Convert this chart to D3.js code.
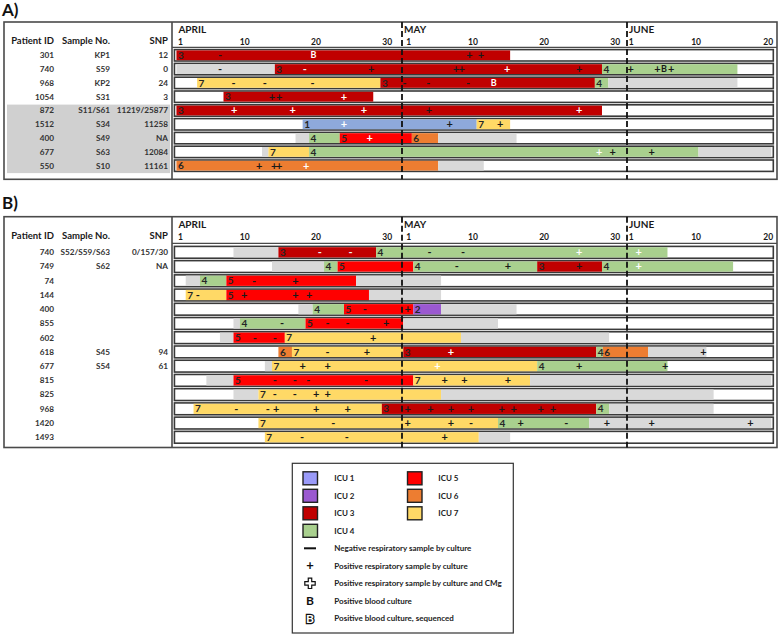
<!DOCTYPE html>
<html><head><meta charset="utf-8">
<script src="https://cdn.jsdelivr.net/npm/d3@7/dist/d3.min.js"></script>
<style>
body{margin:0;background:#fff;}
svg{font-family:Lato,"Open Sans",sans-serif;font-weight:bold;}
</style></head>
<body><svg id="chart" width="778" height="635"></svg>
<script>
// ---------- DATA ----------
// day coordinate: April d = d, May d = 30 + d, June d = 61 + d
const monthNames = ["APRIL", "MAY", "JUNE"];
const monthStarts = [0.5, 30.5, 61.5];
const tickDays = [1, 10, 20, 30, 31, 40, 50, 60, 62, 71, 81];
const tickLabels = ["1", "10", "20", "30", "1", "10", "20", "30", "1", "10", "20"];

const icuCodes = [1, 2, 3, 4, 5, 6, 7, 0];
const icuColors = ["#8EA9DB", "#9B59D0", "#C00000", "#A9D08E", "#FF0000", "#ED7D31", "#FFD966", "#D9D9D9"];
const legendIcuColors = ["#9A9AF8", "#9B59D0", "#C00000", "#A9D08E", "#FF0000", "#ED7D31", "#FFD966"];

// Panel A
const idsA = ["301", "740", "968", "1054", "872", "1512", "400", "677", "550"];
const samplesA = ["KP1", "S59", "KP2", "S31", "S11/S61", "S34", "S49", "S63", "S10"];
const snpA = ["12", "0", "24", "3", "11219/25877", "11258", "NA", "12084", "11161"];
const shadedRowsA = [4, 5, 6, 7, 8];
// [row, icu, startDay, endDay]
const segmentsA = [
  [0,3,0.5,45.3],
  [1,0,0.5,14.3],[1,3,14.3,58.2],[1,4,58.2,76.8],
  [2,7,3.4,29.1],[2,3,29.1,57.2],[2,4,57.2,59.1],[2,0,59.1,76.8],
  [3,3,7.1,28.1],
  [4,3,0.5,58.2],
  [5,1,18.2,40.6],[5,7,40.6,45.3],
  [6,0,17.2,19.1],[6,4,19.1,23.4],[6,5,23.4,31.5],[6,6,31.5,35.2],[6,0,35.2,46.2],
  [7,0,12.5,13.4],[7,7,13.4,19.1],[7,4,19.1,71.4],[7,0,71.4,81.5],
  [8,6,0.5,35.2],[8,0,35.2,41.6]
];
// [row, day, type]  "-" negative, "w" negative (light), "+" positive, "c" positive culture+CMg, "B" blood, "S" blood sequenced
const marksA = [
  [0,6.6,"-"],[0,19.7,"S"],[0,39.6,"+"],[0,41.2,"+"],
  [1,6.6,"-"],[1,18.5,"w"],[1,27.8,"+"],[1,37.7,"+"],[1,38.5,"+"],[1,44.9,"c"],[1,55.0,"+"],[1,62.0,"+"],[1,65.7,"+"],[1,66.6,"B"],[1,67.6,"+"],
  [2,8.5,"-"],[2,12.9,"-"],[2,19.6,"-"],[2,30.7,"-"],[2,33.8,"-"],[2,39.4,"-"],[2,43.0,"S"],
  [3,13.9,"+"],[3,14.9,"+"],[3,24.0,"c"],
  [4,8.6,"c"],[4,16.8,"c"],[4,26.8,"c"],[4,33.9,"+"],[4,55.0,"c"],
  [5,24.0,"c"],[5,36.8,"+"],[5,43.9,"+"],
  [6,27.6,"c"],
  [7,57.8,"c"],[7,59.7,"+"],[7,64.9,"+"],
  [8,12.1,"+"],[8,14.2,"+"],[8,14.9,"+"],[8,18.7,"c"]
];

// Panel B
const idsB = ["740", "749", "74", "144", "400", "855", "602", "618", "677", "815", "825", "968", "1420", "1493"];
const samplesB = ["S52/S59/S63", "S62", "", "", "", "", "", "S45", "S54", "", "", "", "", ""];
const snpB = ["0/157/30", "NA", "", "", "", "", "", "94", "61", "", "", "", "", ""];
const segmentsB = [
  [0,0,8.5,14.8],[0,3,14.8,28.5],[0,4,28.5,67.1],
  [1,0,13.9,21.2],[1,4,21.2,23.1],[1,5,23.1,31.7],[1,4,31.7,49.1],[1,3,49.1,58.2],[1,4,58.2,76.2],
  [2,0,1.8,3.8],[2,4,3.8,7.5],[2,5,7.5,25.7],[2,0,25.7,35.6],
  [3,7,1.8,7.5],[3,5,7.5,27.5],[3,0,27.5,35.6],
  [4,0,17.6,19.6],[4,4,19.6,24.0],[4,5,24.0,31.7],[4,2,31.7,35.6],[4,0,35.6,46.2],
  [5,0,8.5,9.4],[5,4,9.4,18.6],[5,5,18.6,30.6],[5,0,30.6,43.6],
  [6,0,6.6,8.5],[6,5,8.5,15.7],[6,7,15.7,38.4],[6,0,38.4,59.2],
  [7,6,14.8,16.7],[7,7,16.7,30.6],[7,3,30.6,57.4],[7,4,57.4,58.3],[7,6,58.3,64.4],[7,0,64.4,72.5],
  [8,0,12.9,13.9],[8,7,13.9,49.1],[8,4,49.1,67.1],
  [9,0,4.7,8.5],[9,5,8.5,31.7],[9,7,31.7,48.1],[9,0,48.1,81.5],
  [10,0,8.5,12.0],[10,7,12.0,35.6],[10,0,35.6,73.5],
  [11,7,2.9,29.3],[11,3,29.3,57.4],[11,4,57.4,59.2],[11,0,59.2,73.5],
  [12,7,12.0,43.6],[12,4,43.6,56.4],[12,0,56.4,81.5],
  [13,7,12.9,40.9],[13,0,40.9,45.3]
];
const marksB = [
  [0,20.6,"w"],[0,24.9,"w"],[0,34.0,"-"],[0,38.7,"-"],[0,55.0,"c"],[0,63.1,"c"],
  [1,37.8,"-"],[1,45.0,"+"],[1,55.0,"+"],[1,63.1,"c"],
  [2,11.4,"-"],[2,17.2,"+"],
  [3,3.5,"-"],[3,10.0,"+"],[3,17.2,"+"],[3,19.1,"+"],
  [4,26.9,"-"],[4,30.95,"+"],
  [5,15.3,"-"],[5,21.7,"-"],[5,24.5,"-"],[5,29.9,"+"],
  [6,11.5,"-"],[6,14.3,"-"],[6,28.1,"+"],
  [7,21.7,"-"],[7,27.2,"+"],[7,37.0,"c"],[7,72.1,"+"],
  [8,18.2,"+"],[8,21.7,"+"],[8,35.1,"c"],[8,55.0,"+"],[8,66.8,"+"],
  [9,14.3,"-"],[9,17.1,"-"],[9,19.0,"-"],[9,27.1,"-"],[9,36.1,"+"],[9,38.9,"+"],[9,45.0,"+"],
  [10,14.3,"-"],[10,17.1,"-"],[10,20.1,"+"],[10,21.7,"+"],
  [11,8.9,"-"],[11,13.3,"-"],[11,14.5,"+"],[11,20.1,"+"],[11,24.5,"+"],[11,30.95,"+"],[11,34.1,"+"],[11,37.0,"+"],[11,39.8,"+"],[11,44.1,"+"],[11,45.8,"+"],[11,49.6,"+"],[11,51.3,"+"],
  [12,22.5,"-"],[12,30.95,"+"],[12,37.0,"+"],[12,39.8,"-"],[12,46.8,"+"],[12,53.2,"-"],[12,58.9,"+"],[12,64.9,"+"],[12,78.6,"+"],
  [13,18.1,"-"],[13,24.4,"-"],[13,36.1,"+"]
];

// Legend
const legendIcuLabels = ["ICU 1", "ICU 2", "ICU 3", "ICU 4", "ICU 5", "ICU 6", "ICU 7"];
const legendSymbolTypes = ["-", "+", "c", "B", "S"];
const legendSymbolLabels = [
  "Negative respiratory sample by culture",
  "Positive respiratory sample by culture",
  "Positive respiratory sample by culture and CMg",
  "Positive blood culture",
  "Positive blood culture, sequenced"
];

// ---------- CHART ----------
const svg = d3.select("#chart");
const color = d3.scaleOrdinal().domain(icuCodes).range(icuColors);
const x = d3.scaleLinear()
  .domain([1, 30, 30.5, 31, 60, 61.5, 62, 81])
  .range([180, 386.8, 402, 408.3, 614.8, 627, 630.7, 767.7]);

const markFill = {"-":"#1a1a1a","w":"#f2f2f2","+":"#1a1a1a","c":"#ffffff","B":"#1a1a1a","S":"#ffffff"};
const markText = {"-":"-","w":"-","+":"+","c":"+","B":"B","S":"B"};

function drawPanel(o) {
  const g = svg.append("g");
  const y = d3.scaleBand().domain(d3.range(o.ids.length)).range(o.rowRange);
  const cy = i => y(i) + y.bandwidth() / 2;
  const xL = x(0.5), xR = x(81.5);

  g.append("text").attr("x", 2).attr("y", o.titleY).attr("font-size", 17).attr("fill", "#111").text(o.title);

  if (o.shaded.length) {
    const s0 = d3.min(o.shaded), s1 = d3.max(o.shaded);
    g.append("rect").attr("x", 7).attr("width", 163)
      .attr("y", y(s0) + 1).attr("height", y(s1) + y.bandwidth() - y(s0) - 0.5)
      .attr("fill", "#D0D0D0");
  }

  g.append("rect").attr("x", 4).attr("y", o.boxTop).attr("width", 773).attr("height", o.boxBottom - o.boxTop)
    .attr("fill", "none").attr("stroke", "#4a4a4a").attr("stroke-width", 1.6);
  g.append("line").attr("x1", 172).attr("x2", 172).attr("y1", o.boxTop).attr("y2", o.boxBottom)
    .attr("stroke", "#4a4a4a").attr("stroke-width", 1.6);
  g.append("line").attr("x1", 172).attr("x2", 777).attr("y1", o.headerLine).attr("y2", o.headerLine)
    .attr("stroke", "#4a4a4a").attr("stroke-width", 1.2);

  const hy = o.boxTop + 22;
  [["Patient ID", 54], ["Sample No.", 110], ["SNP", 168]].forEach(([t, xx]) =>
    g.append("text").attr("x", xx).attr("y", hy).attr("text-anchor", "end").attr("font-size", 9.5).attr("fill", "#1a1a1a").text(t));

  g.selectAll(".month").data(monthNames).join("text")
    .attr("x", (d, i) => x(monthStarts[i]) + 2).attr("y", o.boxTop + 11)
    .attr("font-size", 10).attr("fill", "#1a1a1a").text(d => d);

  const axis = d3.axisTop(x).tickValues(tickDays).tickFormat((d, i) => tickLabels[i]).tickSize(0).tickPadding(0);
  const ag = g.append("g").attr("transform", `translate(0,${o.boxTop + 23})`).call(axis);
  ag.select(".domain").remove();
  ag.selectAll("text").attr("font-size", 8.5).attr("fill", "#1a1a1a").attr("font-family", "Lato, sans-serif").attr("font-weight", "bold");

  const lab = (arr, xx) => g.append("g").selectAll("text").data(arr).join("text")
    .attr("x", xx).attr("y", (d, i) => cy(i)).attr("dy", "0.35em").attr("text-anchor", "end")
    .attr("font-size", 8.2).attr("fill", "#333").text(d => d);
  lab(o.ids, 54); lab(o.samples, 110); lab(o.snp, 168);

  const rh = y.bandwidth() - 2.4;
  g.append("g").selectAll("rect").data(o.ids).join("rect")
    .attr("x", xL - 2).attr("width", xR - xL + 4)
    .attr("y", (d, i) => cy(i) - rh / 2).attr("height", rh)
    .attr("fill", "#fff").attr("stroke", "#3a3a3a").attr("stroke-width", 1.6);

  const sh = rh - 1.6;
  g.append("g").selectAll("rect").data(o.segments).join("rect")
    .attr("x", d => x(d[2])).attr("width", d => x(d[3]) - x(d[2]))
    .attr("y", d => cy(d[0]) - sh / 2).attr("height", sh)
    .attr("fill", d => color(d[1]));
  g.append("g").selectAll("text").data(o.segments.filter(d => d[1] !== 0)).join("text")
    .attr("x", d => x(d[2]) + 1.5).attr("y", d => cy(d[0])).attr("dy", "0.36em")
    .attr("font-size", 10).attr("fill", "#262626").text(d => d[1]);

  g.append("g").selectAll("line").data(monthStarts.slice(1)).join("line")
    .attr("x1", d => x(d)).attr("x2", d => x(d)).attr("y1", o.boxTop).attr("y2", o.boxBottom)
    .attr("stroke", "#111").attr("stroke-width", 1.8).attr("stroke-dasharray", "6,3");

  g.append("g").selectAll("text").data(o.marks).join("text")
    .attr("x", d => x(d[1])).attr("y", d => cy(d[0])).attr("dy", "0.35em")
    .attr("text-anchor", "middle")
    .attr("font-size", d => (d[2] === "B" || d[2] === "S") ? 9 : 11)
    .attr("fill", d => markFill[d[2]]).text(d => markText[d[2]]);
}

drawPanel({title: "A)", titleY: 16, boxTop: 22, boxBottom: 179.3, headerLine: 47.3, rowRange: [48.4, 172.6],
  ids: idsA, samples: samplesA, snp: snpA, shaded: shadedRowsA, segments: segmentsA, marks: marksA});
drawPanel({title: "B)", titleY: 209, boxTop: 216.7, boxBottom: 447.5, headerLine: 243.3, rowRange: [245.2, 444.4],
  ids: idsB, samples: samplesB, snp: snpB, shaded: [], segments: segmentsB, marks: marksB});

// ---------- LEGEND ----------
const lg = svg.append("g");
lg.append("rect").attr("x", 292.3).attr("y", 463.3).attr("width", 221).attr("height", 169.7)
  .attr("fill", "#fff").attr("stroke", "#333").attr("stroke-width", 1.2);
const ly = d3.scaleLinear().domain([0, 8]).range([478.3, 618.3]);
const icuRow = i => i < 4 ? i : i - 4;
const icuCol = i => i < 4 ? 0 : 1;
const colSw = [303, 407.5], colTx = [334.3, 438.3];
lg.selectAll(".sw").data(legendIcuLabels).join("rect")
  .attr("x", (d, i) => colSw[icuCol(i)]).attr("y", (d, i) => ly(icuRow(i)) - 6.5)
  .attr("width", 14.5).attr("height", 13)
  .attr("fill", (d, i) => legendIcuColors[i]).attr("stroke", "#222").attr("stroke-width", 1.4);
lg.selectAll(".lt").data(legendIcuLabels).join("text")
  .attr("x", (d, i) => colTx[icuCol(i)]).attr("y", (d, i) => ly(icuRow(i))).attr("dy", "0.35em")
  .attr("font-size", 8).attr("fill", "#222").text(d => d);
lg.selectAll(".st").data(legendSymbolLabels).join("text")
  .attr("x", colTx[0]).attr("y", (d, i) => ly(i + 4)).attr("dy", "0.35em")
  .attr("font-size", 8).attr("fill", "#222").text(d => d);
legendSymbolTypes.forEach((t, i) => {
  const yy = ly(i + 4), xx = 310;
  if (t === "-") {
    lg.append("rect").attr("x", xx - 6).attr("y", yy - 1).attr("width", 12).attr("height", 2).attr("fill", "#111");
  } else if (t === "c") {
    lg.append("path").attr("d", d3.symbol(d3.symbolCross, 60)())
      .attr("transform", `translate(${xx},${yy})`)
      .attr("fill", "#fff").attr("stroke", "#111").attr("stroke-width", 1.2);
  } else if (t === "S") {
    lg.append("text").attr("x", xx).attr("y", yy).attr("dy", "0.36em").attr("text-anchor", "middle")
      .attr("font-size", 12).attr("fill", "#111").attr("stroke", "#111").attr("stroke-width", 2.4).text("B");
    lg.append("text").attr("x", xx).attr("y", yy).attr("dy", "0.36em").attr("text-anchor", "middle")
      .attr("font-size", 12).attr("fill", "#fff").text("B");
  } else {
    lg.append("text").attr("x", xx).attr("y", yy).attr("dy", "0.36em").attr("text-anchor", "middle")
      .attr("font-size", t === "+" ? 13 : 12).attr("fill", "#111").text(markText[t]);
  }
});
</script>
</body></html>
